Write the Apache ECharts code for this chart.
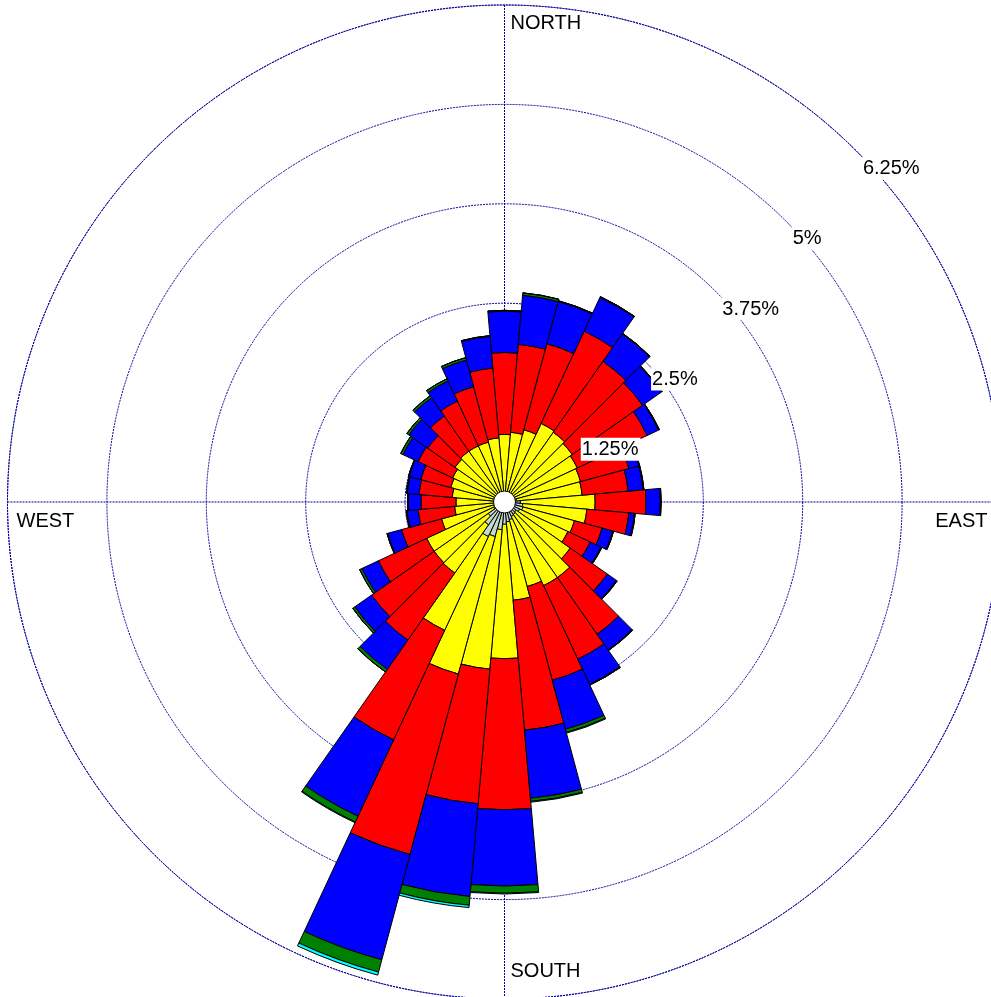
<!DOCTYPE html>
<html>
<head>
<meta charset="utf-8">
<script src="https://cdn.jsdelivr.net/npm/echarts@6/dist/echarts.min.js"></script>
<style>
    html, body { margin: 0; padding: 0; background: #fff; }
    #rose { width: 991px; height: 997px; }
</style>
</head>
<body>
<div id="rose"></div>
<script>
// wind directions, 10 degree sectors, clockwise from north
var directions = ['0', '10', '20', '30', '40', '50', '60', '70', '80', '90', '100', '110',
    '120', '130', '140', '150', '160', '170', '180', '190', '200', '210', '220', '230',
    '240', '250', '260', '270', '280', '290', '300', '310', '320', '330', '340', '350'];

// frequency (%) per speed class, innermost class first
var grayVals = [0.13, 0.13, 0.13, 0.13, 0.13, 0.13, 0.13, 0.13, 0.15, 0.20, 0.23, 0.24,
    0.21, 0.18, 0.19, 0.20, 0.23, 0.25, 0.28, 0.35, 0.45, 0.48, 0.35, 0.25,
    0.15, 0.13, 0.13, 0.13, 0.13, 0.13, 0.13, 0.13, 0.13, 0.13, 0.13, 0.13];
var yellowVals = [0.72, 0.75, 0.81, 0.96, 0.94, 0.91, 0.88, 0.86, 0.83, 0.94, 0.81, 0.67,
    0.67, 0.83, 0.97, 0.96, 0.87, 0.99, 1.69, 1.76, 1.79, 1.30, 0.74, 0.83,
    0.93, 0.69, 0.50, 0.48, 0.53, 0.57, 0.59, 0.63, 0.65, 0.65, 0.65, 0.68];
var redVals = [1.03, 1.11, 1.12, 1.28, 1.09, 1.08, 0.97, 0.63, 0.58, 0.64, 0.53, 0.36,
    0.31, 0.57, 0.87, 1.02, 1.22, 1.64, 1.90, 1.70, 2.35, 1.52, 1.03, 0.96,
    0.67, 0.52, 0.46, 0.44, 0.42, 0.39, 0.48, 0.42, 0.54, 0.62, 0.72, 0.88];
var blueVals = [0.52, 0.62, 0.55, 0.47, 0.42, 0.29, 0.16, 0.13, 0.19, 0.18, 0.07, 0.14,
    0.15, 0.14, 0.24, 0.35, 0.64, 0.86, 0.96, 1.17, 1.37, 1.06, 0.45, 0.26,
    0.23, 0.18, 0.14, 0.16, 0.15, 0.15, 0.21, 0.29, 0.28, 0.28, 0.35, 0.40];
var greenVals = [0.01, 0.03, 0.01, 0.01, 0.01, 0.01, 0.01, 0.01, 0.01, 0.01, 0.01, 0.01,
    0.01, 0.01, 0.01, 0.01, 0.04, 0.04, 0.09, 0.11, 0.16, 0.08, 0.04, 0.03,
    0.03, 0.01, 0.01, 0.01, 0.01, 0.01, 0.03, 0.03, 0.03, 0.03, 0.03, 0.01];
var cyanVals = [0, 0, 0, 0, 0, 0, 0, 0, 0, 0, 0, 0,
    0, 0, 0, 0, 0.01, 0.01, 0.01, 0.03, 0.04, 0.01, 0, 0,
    0, 0, 0, 0, 0, 0, 0, 0, 0, 0, 0, 0];

var ringTicks = [1.25, 2.5, 3.75, 5, 6.25];
var ringLabels = ['1.25%', '2.5%', '3.75%', '5%', '6.25%'];
var compassLabels = ['NORTH', 'EAST', 'SOUTH', 'WEST'];

var bands = [grayVals, yellowVals, redVals, blueVals, greenVals, cyanVals];
var bandColors = ['#c4d8cc', '#ffff00', '#ff0000', '#0000ff', '#008000', '#00ffff'];

var cx = 504.5, cy = 502, R = 497;
var maxPct = 6.25;
var font = '20px "Liberation Sans", Arial, sans-serif';
var gridLine = { show: true, lineStyle: { color: '#00009a', width: 1, type: [2, 1] } };

var chart = echarts.init(document.getElementById('rose'));

var series = [];
for (var i = 0; i < bands.length; i++) {
    series.push({
        type: 'bar',
        coordinateSystem: 'polar',
        polarIndex: 0,
        stack: 'rose',
        data: bands[i],
        barCategoryGap: '0%',
        silent: true,
        itemStyle: { color: bandColors[i], borderColor: '#000', borderWidth: 1 }
    });
}

// text overlays: calm circle, compass names, ring percentages
var graphics = [];
graphics.push({
    type: 'circle', z: 50,
    shape: { cx: cx, cy: cy, r: 11 },
    style: { fill: '#fff', stroke: '#000', lineWidth: 1 }
});
var compassPos = [
    { x: cx + 6, y: cy - R + 18, align: 'left' },
    { x: cx + R - 14, y: cy + 19, align: 'right' },
    { x: cx + 6, y: cy + R - 28, align: 'left' },
    { x: cx - R + 9, y: cy + 19, align: 'left' }
];
compassLabels.forEach(function (t, k) {
    graphics.push({
        type: 'text', z: 50,
        style: { text: t, x: compassPos[k].x, y: compassPos[k].y, font: font, fill: '#000',
            align: compassPos[k].align, verticalAlign: 'middle' }
    });
});
ringTicks.forEach(function (v, k) {
    var r = v / maxPct * R;
    var px = cx + r * Math.SQRT1_2, py = cy - r * Math.SQRT1_2;
    graphics.push({
        type: 'text', z: 50,
        style: { text: ringLabels[k], x: px + 6, y: py + 6, font: font, fill: '#000',
            backgroundColor: '#fff', padding: [2, 2, 1, 1], align: 'left', verticalAlign: 'top' }
    });
});

var option = {
    animation: false,
    backgroundColor: '#fff',
    polar: [
        { center: [cx, cy], radius: [0, R] },
        { center: [cx, cy], radius: [0, R] }
    ],
    angleAxis: [
        {
            polarIndex: 0, type: 'category', data: directions,
            startAngle: 95, clockwise: true, boundaryGap: true,
            axisLine: { show: false }, axisTick: { show: false },
            axisLabel: { show: false }, splitLine: { show: false }
        },
        {
            polarIndex: 1, type: 'value', min: 0, max: 360, interval: 90,
            startAngle: 90, clockwise: true,
            axisLine: gridLine, axisTick: { show: false },
            axisLabel: { show: false }, splitLine: gridLine
        }
    ],
    radiusAxis: [
        {
            polarIndex: 0, type: 'value', min: 0, max: maxPct,
            axisLine: { show: false }, axisTick: { show: false },
            axisLabel: { show: false }, splitLine: { show: false }
        },
        {
            polarIndex: 1, type: 'value', min: 0, max: maxPct, interval: 1.25,
            axisLine: { show: false }, axisTick: { show: false },
            axisLabel: { show: false }, splitLine: gridLine
        }
    ],
    series: series,
    graphic: graphics
};

chart.setOption(option);
</script>
</body>
</html>
